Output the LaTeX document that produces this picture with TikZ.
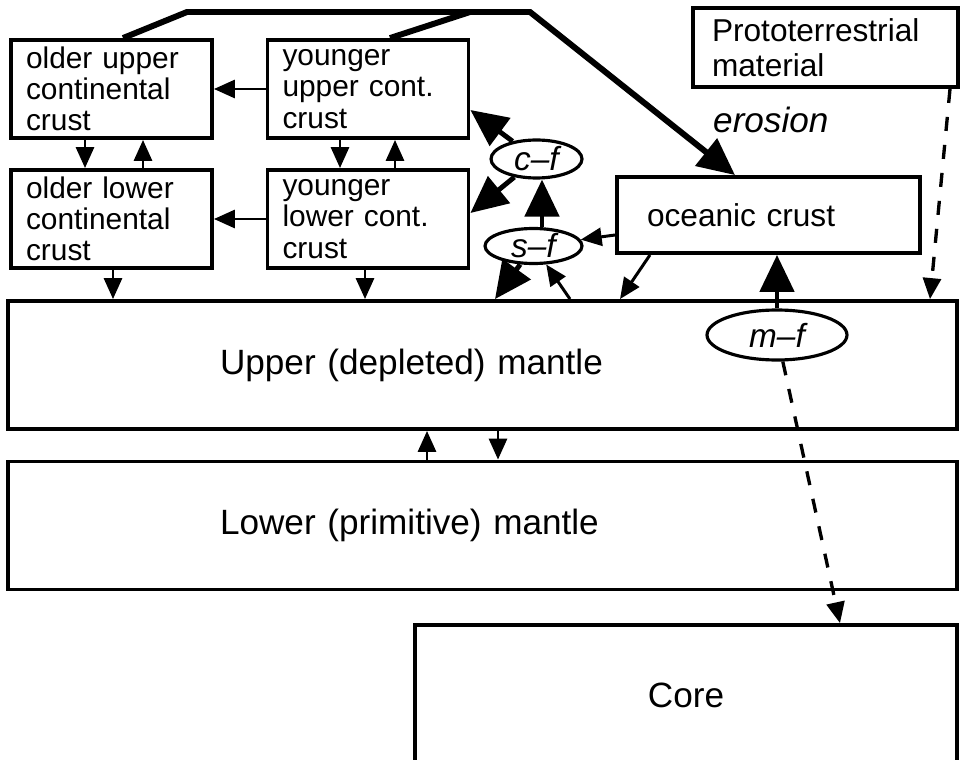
\documentclass[tikz,border=0pt]{standalone}
\usepackage{fontspec}
\setmainfont{Liberation Sans}
\usetikzlibrary{arrows.meta,shapes.geometric}

\tikzset{
  box/.style={draw, line width=2.2pt, inner ysep=0pt, align=left},
  crustbox/.style={box, minimum width=4.02cm, minimum height=1.96cm, inner xsep=0.3cm, text width=3.42cm, font=\fontsize{17}{17.8}\selectfont},
  mantlebox/.style={box, minimum width=18.98cm, minimum height=2.56cm, inner xsep=4.24cm, text width=10.5cm, font=\fontsize{20}{24}\selectfont},
  factory/.style={draw, ellipse, line width=1.8pt, inner sep=0pt, font=\fontsize{19}{20}\selectfont\itshape},
  flow/.style={-{Triangle[length=0.42cm,width=0.36cm]}, line width=1.7pt},
  bigflow/.style={-{Triangle[length=0.74cm,width=0.68cm]}, line width=2.8pt},
  dashflow/.style={flow, line width=1.9pt, dash pattern=on 8pt off 8pt}
}

\begin{document}
\begin{tikzpicture}[x=0.02cm, y=-0.02cm]

        \useasboundingbox (0,0) rectangle (960,760);

        % Draw the crust reservoirs
        \node[crustbox] (ouc) at (111.5,89) {older upper\\continental\\crust};
        \node[crustbox] (yuc) at (368,89) {younger\\upper cont.\\crust};
        \node[crustbox] (olc) at (111.5,219) {older lower\\continental\\crust};
        \node[crustbox] (ylc) at (368,219) {younger\\lower cont.\\crust};
        \node[box, minimum width=5.3cm, minimum height=1.58cm, inner xsep=0.38cm, text width=4.54cm, font=\fontsize{18}{20}\selectfont] (proto) at (825.5,47.5) {Prototerrestrial\\material};
        \node[box, minimum width=6.06cm, minimum height=1.52cm, inner xsep=0.6cm, text width=4.86cm, font=\fontsize{18}{20}\selectfont] (ocean) at (768.5,215) {oceanic crust};

        % Draw the mantle and the core
        \node[mantlebox] (um) at (482.5,365) {Upper (depleted) mantle};
        \node[mantlebox] (lm) at (482.5,525.5) {Lower (primitive) mantle};
        \node[box, minimum width=10.84cm, minimum height=2.8cm, align=center, font=\fontsize{20}{24}\selectfont] (core) at (686,695) {Core};

        % Draw the factories
        \node[factory, minimum width=1.82cm, minimum height=0.76cm] (cf) at (536.5,159) {c–f};
        \node[factory, minimum width=1.94cm, minimum height=0.7cm] (sf) at (533.5,246) {s–f};
        \node[factory, minimum width=2.8cm, minimum height=1.0cm] (mf) at (777,335) {m–f};

        % Erosion
        \node[anchor=base west, font=\fontsize{20}{24}\selectfont\itshape] (erosion) at (707,133) {erosion};
        \draw[bigflow, line width=3.4pt] (ouc.north -| 123,0) -- (187,12) -- (530,12) -- (ocean.north -| 735,0);
        \draw[line width=3.4pt] (yuc.north -| 390,0) -- (470,12);

        % Exchanges between the crust boxes
        \draw[flow] (yuc.west) -- (ouc.east);
        \draw[flow] (ylc.west) -- (olc.east);
        \draw[flow] (ouc.south -| 85,0) -- (olc.north -| 85,0);
        \draw[flow] (olc.north -| 143,0) -- (ouc.south -| 143,0);
        \draw[flow] (yuc.south -| 340,0) -- (ylc.north -| 340,0);
        \draw[flow] (ylc.north -| 395,0) -- (yuc.south -| 395,0);
        \draw[flow] (olc.south -| 113,0) -- (um.north -| 113,0);
        \draw[flow] (ylc.south -| 365,0) -- (um.north -| 365,0);

        % Factory outputs
        \draw[bigflow] (cf) -- (yuc.east |- 0,110);
        \draw[bigflow] (cf) -- (ylc.east |- 0,213);
        \draw[bigflow] (sf.north -| 542,0) -- (cf.south -| 542,0);
        \draw[bigflow] (sf) -- (um.north -| 495,0);
        \draw[bigflow] (mf) -- (ocean.south -| 777,0);

        % Oceanic crust and mantle flows
        \draw[flow] (ocean.west |- 0,235) -- (sf);
        \draw[flow] (um.north -| 570,0) -- (sf);
        \draw[flow] (ocean.south -| 650,0) -- (um.north -| 620,0);
        \draw[flow] (lm.north -| 427,0) -- (um.south -| 427,0);
        \draw[flow] (um.south -| 498,0) -- (lm.north -| 498,0);

        % Dashed fluxes
        \draw[dashflow] (proto.south -| 950,0) -- (um.north -| 930,0);
        \draw[dashflow] (mf) -- (core.north -| 840,0);

\end{tikzpicture}
\end{document}
